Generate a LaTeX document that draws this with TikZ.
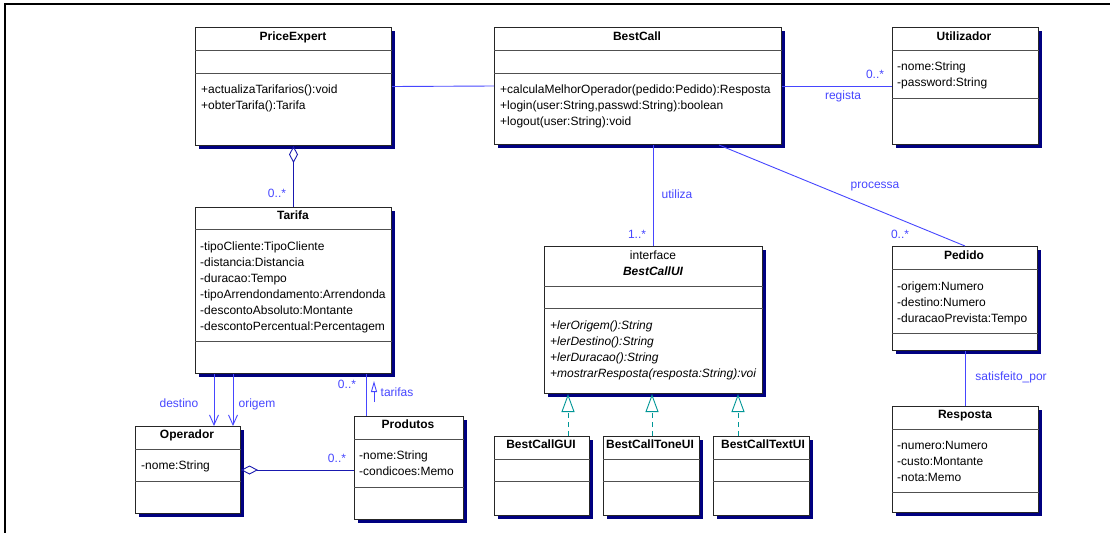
\documentclass[tikz,border=0pt]{standalone}
\usepackage{fontspec}
\setmainfont{Liberation Sans}
\usetikzlibrary{arrows.meta,shadows}

\definecolor{assocblue}{RGB}{70,70,255}
\definecolor{aggblue}{RGB}{25,25,175}
\definecolor{realteal}{RGB}{0,150,150}
\definecolor{shadownavy}{RGB}{0,0,128}
\definecolor{divgray}{RGB}{80,80,80}

\newcommand\umlfont{\fontsize{12}{14}\selectfont}

\tikzset{
  classbox/.style={draw=black!85, line width=1pt, fill=white, anchor=north west, inner sep=0pt,
    general shadow={fill=shadownavy, shadow xshift=3pt, shadow yshift=-3pt}},
  divider/.style={draw=divgray, line width=1pt},
  ctitle/.style={font=\umlfont\bfseries, inner sep=0pt, anchor=mid},
  member/.style={font=\umlfont, inner sep=0pt, anchor=mid west},
  lbl/.style={font=\umlfont, text=assocblue, inner sep=0pt, anchor=mid},
  assoc/.style={draw=assocblue, line width=0.9pt},
  aggr/.style={draw=aggblue, line width=0.9pt, {Diamond[open, length=17pt, width=9pt]}-},
  navi/.style={assoc, -{Straight Barb[length=10pt, width=9pt]}},
  realize/.style={draw=realteal, line width=0.9pt, dash pattern=on 5pt off 4pt,
    -{Triangle[open, length=18pt, width=13pt]}},
}

% class box: name, left, top, width, height, first rule, second rule
\newcommand\umlclass[7]{%
  \node[classbox, minimum width=#4pt, minimum height=#5pt] (#1) at (#2,#3) {};
  \draw[divider] ([yshift=-#6pt]#1.north west) -- ([yshift=-#6pt]#1.north east);
  \draw[divider] ([yshift=-#7pt]#1.north west) -- ([yshift=-#7pt]#1.north east);
}

\begin{document}
\begin{tikzpicture}[x=1pt,y=-1pt]
\useasboundingbox (0,0) rectangle (1110,533);
\draw[line width=2pt] (1110,3.6) -- (5,3.6) -- (5,533);

% classes
\umlclass{pe}{195}{27}{196}{118}{23}{46}
\umlclass{bc}{494}{27}{287}{117}{23}{46}
\umlclass{ut}{892}{27}{146}{117}{23}{71}
\umlclass{tar}{195}{207}{196}{166}{22}{134}
\umlclass{op}{135}{426}{105}{87}{23}{55}
\umlclass{prod}{354}{416}{109}{103}{23}{71}
\umlclass{bcui}{544}{246}{218}{147}{40}{62}
\umlclass{gui}{494}{436}{95}{79}{23}{45}
\umlclass{tone}{603}{436}{96}{79}{23}{45}
\umlclass{txt}{713}{436}{96}{79}{23}{45}
\umlclass{ped}{892}{246}{145}{104}{23}{87}
\umlclass{resp}{892}{406}{146}{106}{23}{86}

% titles
\node[ctitle] (pe-t) at (293,38) {PriceExpert};
\node[ctitle] (bc-t) at (637,38) {BestCall};
\node[ctitle] (ut-t) at (964,38) {Utilizador};
\node[ctitle] (tar-t) at (293,217) {Tarifa};
\node[ctitle] (op-t) at (187,436) {Operador};
\node[ctitle] (prod-t) at (408,426) {Produtos};
\node[font=\umlfont, inner sep=0pt, anchor=mid] (bcui-s) at (653,257) {interface};
\node[ctitle, font=\umlfont\bfseries\itshape] (bcui-t) at (653,273) {BestCallUI};
\node[ctitle] (gui-t) at (541,446) {BestCallGUI};
\node[ctitle] (tone-t) at (650,446) {BestCallToneUI};
\node[ctitle] (txt-t) at (763,446) {BestCallTextUI};
\node[ctitle] (ped-t) at (964,257) {Pedido};
\node[ctitle] (resp-t) at (965,416) {Resposta};

% members
\foreach \m [count=\i] in {+actualizaTarifarios():void, +obterTarifa():Tarifa}
  \node[member] (pe-m\i) at (201,75+16*\i) {\m};
\foreach \m [count=\i] in {+calculaMelhorOperador(pedido:Pedido):Resposta,
    {+login(user:String,passwd:String):boolean}, +logout(user:String):void}
  \node[member] (bc-m\i) at (500,75+16*\i) {\m};
\foreach \m [count=\i] in {-nome:String, -password:String}
  \node[member] (ut-a\i) at (897,52+16*\i) {\m};
\foreach \m [count=\i] in {-tipoCliente:TipoCliente, -distancia:Distancia, -duracao:Tempo,
    -tipoArrendondamento:Arrendonda, -descontoAbsoluto:Montante,
    -descontoPercentual:Percentagem}
  \node[member] (tar-a\i) at (200,232+16*\i) {\m};
\node[member] (op-a1) at (141,467) {-nome:String};
\foreach \m [count=\i] in {-nome:String, -condicoes:Memo}
  \node[member] (prod-a\i) at (359,441+16*\i) {\m};
\foreach \m [count=\i] in {+lerOrigem():String, +lerDestino():String, +lerDuracao():String,
    +mostrarResposta(resposta:String):voi}
  \node[member, font=\umlfont\itshape] (bcui-m\i) at (550,311+16*\i) {\m};
\foreach \m [count=\i] in {-origem:Numero, -destino:Numero, -duracaoPrevista:Tempo}
  \node[member] (ped-a\i) at (897,272+16*\i) {\m};
\foreach \m [count=\i] in {-numero:Numero, -custo:Montante, -nota:Memo}
  \node[member] (resp-a\i) at (897,431+16*\i) {\m};

% associations
\draw[assoc] (pe.east) -- (bc.west);
\draw[assoc] (bc.east) -- (ut.west);
\draw[assoc] (bcui.north |- bc.south) -- (bcui.north);
\draw[assoc] ([xshift=-63pt]bc.south east) -- (ped.north);
\draw[assoc] (ped.south) -- (ped.south |- resp.north);
\draw[aggr] (pe.south) -- (tar.north);
\draw[aggr] (op.east) -- (op.east -| prod.west);
\coordinate (dst) at ([xshift=19pt]tar.south west);
\coordinate (org) at ([xshift=38pt]tar.south west);
\coordinate (trf) at ([xshift=-26pt]tar.south east);
\draw[navi] (dst) -- (dst |- op.north);
\draw[navi] (org) -- (org |- op.north);
\draw[assoc] (trf) -- (trf |- prod.north);
\coordinate (trf-dir) at (374,402);
\draw[assoc, -{Triangle[open, length=11pt, width=6pt]}] (trf-dir) -- ++(0,-21);

% realizations
\foreach \dx/\c in {24/gui, 108/tone, 194/txt} {
  \coordinate (r-\c) at ([xshift=\dx pt]bcui.south west);
  \draw[realize] (r-\c |- \c.north) -- (r-\c);
}

% labels
\node[lbl] (m-ut) at (875,76) {0..*};
\node[lbl] (l-reg) at (843,97) {regista};
\node[lbl] (l-uti) at (677,196) {utiliza};
\node[lbl] (m-ui) at (637,236) {1..*};
\node[lbl] (l-pro) at (875,186) {processa};
\node[lbl] (m-ped) at (900,236) {0..*};
\node[lbl] (l-sat) at (1011,378) {satisfeito\_por};
\node[lbl] (m-tar) at (277,195) {0..*};
\node[lbl] (l-dst) at (179,405) {destino};
\node[lbl] (l-org) at (257,405) {origem};
\node[lbl] (m-prod) at (347,386) {0..*};
\node[lbl] (l-trf) at (397,394) {tarifas};
\node[lbl] (m-op) at (337,460) {0..*};
\end{tikzpicture}
\end{document}
